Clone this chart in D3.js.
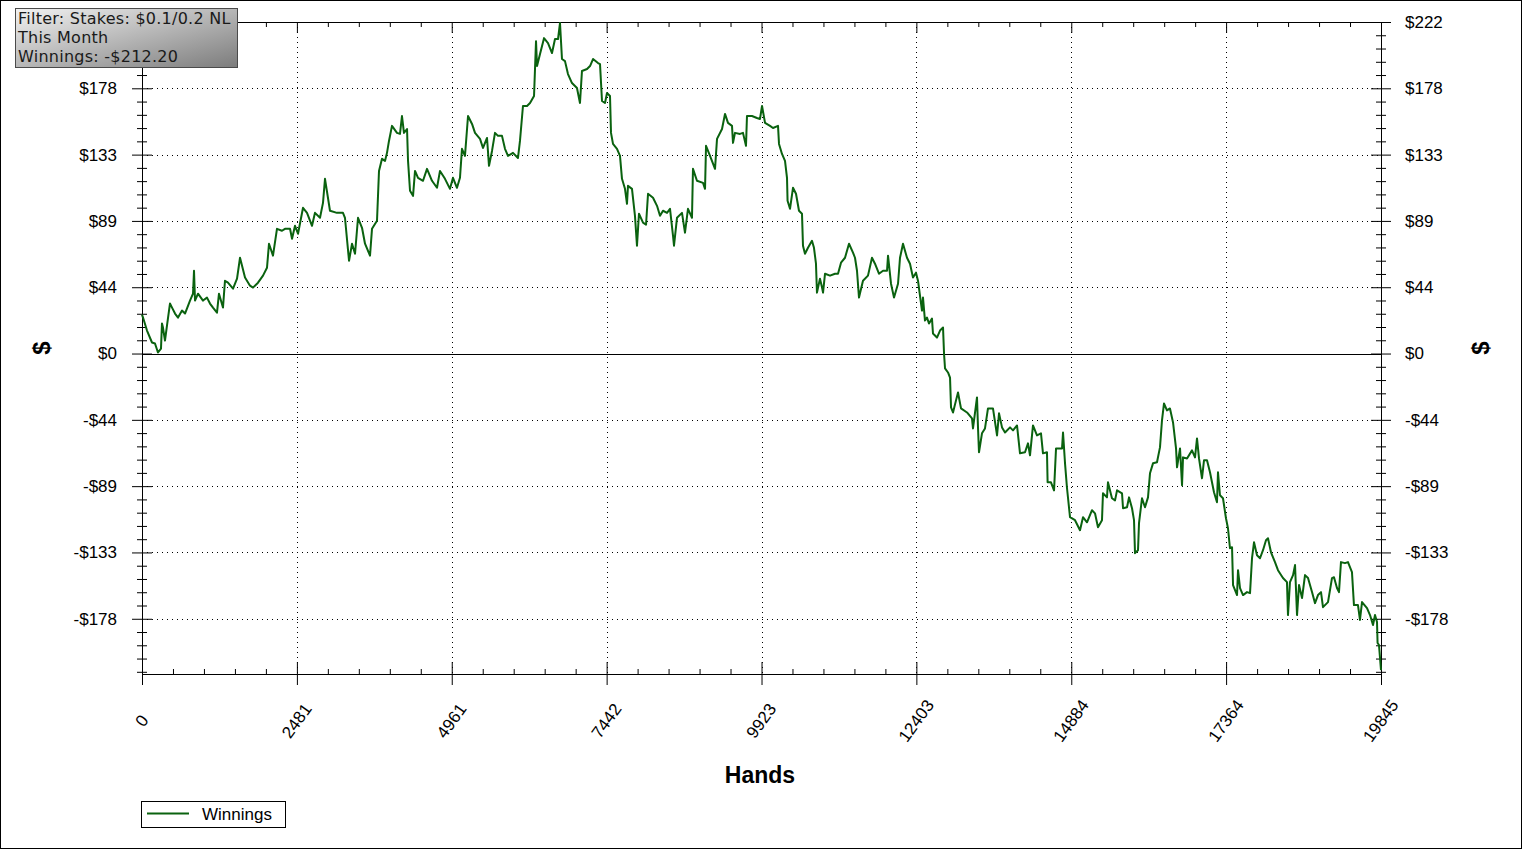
<!DOCTYPE html>
<html>
<head>
<meta charset="utf-8">
<script src="https://cdn.jsdelivr.net/npm/d3@7/dist/d3.min.js"></script>
<style>
html,body{margin:0;padding:0;background:#fff;}
svg{display:block;}
</style>
</head>
<body>
<svg id="chart" width="1522" height="849"></svg>
<script>
// ---------------- DATA ----------------
const hands = [0,16,80,160,208,256,304,320,336,368,400,448,481,529,577,641,689,769,817,833,849,897,977,1041,1089,1137,1201,1233,1297,1329,1377,1458,1522,1570,1650,1730,1778,1858,1938,2002,2034,2098,2162,2242,2290,2371,2403,2451,2499,2579,2643,2723,2771,2851,2899,2931,3011,3123,3219,3251,3316,3364,3412,3460,3524,3572,3652,3684,3764,3796,3844,3892,3924,3956,4004,4084,4132,4164,4196,4245,4261,4293,4341,4373,4421,4501,4565,4645,4725,4773,4853,4933,4981,5045,5093,5125,5173,5222,5286,5334,5414,5462,5526,5558,5606,5654,5702,5766,5814,5862,5942,6022,6054,6102,6167,6215,6279,6311,6327,6375,6439,6503,6567,6615,6663,6695,6727,6775,6823,6887,6967,7015,7047,7128,7176,7224,7304,7336,7368,7416,7448,7496,7512,7544,7608,7656,7688,7736,7768,7784,7848,7896,7928,7960,8025,8073,8105,8185,8249,8297,8345,8409,8457,8505,8521,8569,8649,8697,8745,8809,8825,8889,8986,9018,9034,9098,9178,9210,9290,9338,9386,9450,9466,9498,9578,9626,9674,9690,9770,9850,9898,9931,9979,10059,10107,10187,10203,10251,10299,10331,10340,10379,10427,10475,10523,10571,10587,10619,10667,10731,10763,10795,10811,10859,10892,10908,10940,11020,11100,11148,11196,11260,11324,11388,11420,11452,11484,11548,11628,11692,11740,11804,11869,11933,11949,11997,12045,12109,12141,12189,12253,12301,12349,12397,12429,12493,12509,12541,12573,12605,12653,12669,12733,12782,12830,12846,12862,12910,12942,12958,12990,13038,13070,13118,13214,13294,13310,13374,13390,13406,13454,13502,13550,13630,13695,13727,13775,13823,13903,13951,14015,14063,14143,14191,14223,14271,14335,14399,14431,14495,14505,14559,14608,14640,14736,14752,14784,14816,14864,14944,15024,15072,15136,15216,15264,15312,15376,15392,15456,15472,15536,15585,15617,15697,15713,15777,15809,15857,15889,15905,15953,15969,16017,16065,16113,16145,16193,16257,16305,16337,16369,16417,16465,16514,16562,16578,16626,16658,16674,16738,16818,16866,16898,16930,16978,17010,17058,17106,17138,17170,17218,17234,17266,17314,17362,17394,17426,17459,17475,17539,17555,17587,17635,17699,17747,17779,17811,17859,17907,17955,18003,18035,18083,18147,18195,18275,18339,18355,18387,18436,18468,18500,18532,18580,18628,18676,18740,18788,18836,18884,18916,18996,19060,19092,19140,19172,19204,19268,19316,19380,19412,19476,19508,19541,19621,19669,19717,19749,19781,19790,19813,19845];
const winnings = [26.1,24.1,15.4,7.4,6.7,0.7,3.3,20.1,17.4,8.7,18.7,33.5,30.8,26.8,24.1,28.8,26.8,35.5,40.1,55.5,35.5,40.1,35.5,37.5,33.5,30.8,27.4,40.1,30.8,48.8,47.5,43.5,50.2,64.2,50.9,45.5,44.2,47.5,52.2,57.5,73.6,65.6,83.6,82.3,83.6,83.6,76.9,85.6,80.3,97.7,94.3,85.6,94.3,91.0,101.0,117.1,95.7,94.3,94.3,91.0,62.2,73.6,66.9,91.0,84.3,73.6,65.6,83.6,89.0,122.4,130.5,129.1,134.5,142.5,152.6,147.9,147.2,159.2,147.9,150.5,129.1,109.1,105.7,122.4,117.8,115.8,123.8,115.8,111.1,122.4,117.1,110.4,117.8,111.1,117.8,137.2,132.5,159.2,153.9,147.9,143.9,137.8,144.5,125.8,135.8,147.9,145.9,145.9,137.2,132.5,134.5,131.1,142.5,165.9,165.9,167.9,172.6,209.4,192.7,200.7,211.4,208.1,201.4,210.8,210.8,221.5,197.4,196.0,187.3,181.3,178.0,167.9,189.4,190.7,192.7,197.4,194.7,194.0,169.3,167.9,174.6,172.6,147.9,140.5,137.2,132.5,117.1,110.4,100.4,112.4,110.4,92.3,72.3,93.7,87.7,86.3,107.1,104.4,99.0,92.3,95.7,94.3,97.0,79.0,72.3,91.0,94.3,81.0,97.0,91.0,123.8,115.8,114.4,110.4,139.2,132.5,123.8,143.9,150.5,160.6,154.6,152.6,141.2,147.9,147.2,147.9,139.2,159.2,159.2,157.9,157.2,165.9,154.6,152.6,151.2,152.6,140.5,133.8,129.1,117.8,102.4,97.0,111.1,107.1,95.7,93.7,72.3,66.9,70.9,75.6,70.9,60.2,40.8,50.2,44.2,40.8,53.5,52.2,53.5,53.5,60.9,64.2,73.6,67.6,64.2,55.5,37.5,48.8,52.2,64.2,60.2,53.5,55.5,55.5,65.6,46.8,37.5,46.8,64.2,73.6,64.2,60.2,50.9,54.2,48.8,28.8,37.5,22.1,24.1,20.1,23.4,13.4,10.7,15.4,17.4,0,-10.0,-12.7,-16.1,-36.1,-39.5,-31.4,-26.1,-36.8,-39.5,-43.5,-50.2,-29.4,-49.5,-66.2,-53.5,-50.2,-36.8,-36.8,-54.9,-40.1,-49.5,-52.9,-49.5,-51.5,-48.2,-66.9,-66.2,-60.2,-68.2,-48.2,-54.9,-53.5,-66.9,-66.2,-86.3,-86.3,-91.7,-63.6,-63.6,-52.9,-73.6,-90.3,-109.7,-111.7,-118.4,-109.7,-113.1,-105.0,-107.1,-116.4,-111.7,-93.7,-96.4,-86.3,-97.0,-98.4,-91.7,-93.7,-103.7,-103.0,-96.4,-103.7,-111.7,-133.8,-131.8,-113.7,-97.0,-103.0,-96.4,-80.3,-73.6,-72.9,-62.9,-44.8,-33.5,-38.1,-36.8,-46.2,-63.6,-76.3,-63.6,-88.3,-69.6,-70.3,-64.9,-69.6,-56.9,-70.3,-83.6,-71.6,-71.6,-79.6,-86.3,-93.0,-99.7,-79.6,-95.0,-97.0,-110.4,-117.1,-130.5,-129.8,-155.2,-161.9,-145.2,-157.2,-161.9,-159.9,-160.6,-137.2,-126.5,-135.2,-137.2,-131.8,-125.1,-123.8,-133.2,-139.8,-145.2,-150.5,-153.2,-175.3,-153.2,-148.5,-141.8,-175.3,-155.2,-163.9,-148.5,-150.5,-159.9,-167.3,-161.9,-159.9,-170.0,-166.6,-150.5,-149.9,-157.2,-159.9,-139.8,-140.5,-139.8,-146.5,-168.6,-168.6,-178.6,-166.6,-170.6,-175.3,-182.0,-175.3,-180.0,-194.0,-195.4,-212.2];

const xTickValues = [0,2481,4961,7442,9923,12403,14884,17364,19845];
const xTickLabels = ["0","2481","4961","7442","9923","12403","14884","17364","19845"];
const yTickValues = [-177.78,-133.33,-88.89,-44.44,0,44.44,88.89,133.33,177.78,222.22];
const yTickLabels = ["-$178","-$133","-$89","-$44","$0","$44","$89","$133","$178","$222"];
const filterLines = ["Filter: Stakes: $0.1/0.2 NL","This Month","Winnings: -$212.20"];
const seriesName = "Winnings";
const xTitle = "Hands";
const yTitle = "$";

// ---------------- LAYOUT ----------------
const W = 1522, H = 849;
const L = 142, R = 1381, T = 22, B = 674;
const xMax = 19845, yMin = -214.8, yMax = 222.22;
const lineColor = "#0a620f";
const FONT = "'Liberation Sans', Arial, sans-serif";

const svg = d3.select("#chart");
svg.append("rect").attr("x",0.5).attr("y",0.5).attr("width",W-1).attr("height",H-1)
  .attr("fill","#fff").attr("stroke","#000").attr("stroke-width",1);

const x = d3.scaleLinear().domain([0,xMax]).range([L,R]);
const y = d3.scaleLinear().domain([yMin,yMax]).range([B,T]);

const xMinor = d3.range(0, 41).map(i => i*xMax/40).filter((d,i)=> i%5 !== 0);
const yMinor = d3.range(-24, 26).filter(i => i%5 !== 0).map(i => i*222.22/25).filter(d => d>yMin && d<yMax);

// gridlines (dotted)
const grid = svg.append("g").attr("stroke","#000").attr("stroke-width",1).attr("stroke-dasharray","1,4");
grid.selectAll("line.gx").data(xTickValues.slice(1,-1)).join("line")
  .attr("x1",d=>Math.round(x(d))+0.5).attr("x2",d=>Math.round(x(d))+0.5)
  .attr("y1",T).attr("y2",B);
grid.selectAll("line.gy").data(yTickValues.filter(d=>d!==0 && d<220)).join("line")
  .attr("y1",d=>Math.round(y(d))+0.5).attr("y2",d=>Math.round(y(d))+0.5)
  .attr("x1",L).attr("x2",R);

// zero line
svg.append("line").attr("x1",L).attr("x2",R)
  .attr("y1",Math.round(y(0))+0.5).attr("y2",Math.round(y(0))+0.5)
  .attr("stroke","#000").attr("stroke-width",1);

// frame
svg.append("rect").attr("x",L+0.5).attr("y",T+0.5).attr("width",R-L).attr("height",B-T)
  .attr("fill","none").attr("stroke","#000").attr("stroke-width",1);

function styleAxis(g){
  g.select(".domain").remove();
  g.selectAll("line").attr("stroke","#000");
  g.selectAll("text").attr("font-family",FONT).attr("font-size",17).attr("fill","#000");
}

// Y axes - left (top label is hidden behind the filter box in the reference)
const leftVals = yTickValues.slice(0,-1);
svg.append("g").attr("transform",`translate(${L},0)`)
  .call(d3.axisLeft(y).tickValues(leftVals).tickFormat((d,i)=>yTickLabels[i]).tickSize(10).tickPadding(15)).call(styleAxis);
svg.append("g").attr("transform",`translate(${L},0)`)
  .call(d3.axisRight(y).tickValues(yTickValues).tickFormat("").tickSize(10)).call(styleAxis);
svg.append("g").attr("transform",`translate(${L},0)`)
  .call(d3.axisLeft(y).tickValues(yMinor).tickFormat("").tickSize(5)).call(styleAxis);
svg.append("g").attr("transform",`translate(${L},0)`)
  .call(d3.axisRight(y).tickValues(yMinor).tickFormat("").tickSize(5)).call(styleAxis);
// Y axes - right
svg.append("g").attr("transform",`translate(${R},0)`)
  .call(d3.axisRight(y).tickValues(yTickValues).tickFormat((d,i)=>yTickLabels[i]).tickSize(10).tickPadding(14)).call(styleAxis);
svg.append("g").attr("transform",`translate(${R},0)`)
  .call(d3.axisLeft(y).tickValues(yTickValues).tickFormat("").tickSize(10)).call(styleAxis);
svg.append("g").attr("transform",`translate(${R},0)`)
  .call(d3.axisRight(y).tickValues(yMinor).tickFormat("").tickSize(5)).call(styleAxis);
svg.append("g").attr("transform",`translate(${R},0)`)
  .call(d3.axisLeft(y).tickValues(yMinor).tickFormat("").tickSize(5)).call(styleAxis);

// X axes - bottom
svg.append("g").attr("transform",`translate(0,${B})`)
  .call(d3.axisBottom(x).tickValues(xTickValues).tickFormat("").tickSize(11)).call(styleAxis);
svg.append("g").attr("transform",`translate(0,${B})`)
  .call(d3.axisTop(x).tickValues(xTickValues).tickFormat("").tickSize(12)).call(styleAxis);
svg.append("g").attr("transform",`translate(0,${B})`)
  .call(d3.axisTop(x).tickValues(xMinor).tickFormat("").tickSize(5)).call(styleAxis);
// X axes - top
svg.append("g").attr("transform",`translate(0,${T})`)
  .call(d3.axisBottom(x).tickValues(xTickValues).tickFormat("").tickSize(11)).call(styleAxis);
svg.append("g").attr("transform",`translate(0,${T})`)
  .call(d3.axisBottom(x).tickValues(xMinor).tickFormat("").tickSize(5)).call(styleAxis);

// X tick labels rotated
svg.append("g").selectAll("text").data(xTickValues).join("text")
  .attr("transform",d=>`translate(${x(d)},721) rotate(-54)`)
  .attr("text-anchor","middle").attr("dominant-baseline","central")
  .attr("font-family",FONT).attr("font-size",17).attr("fill","#000")
  .text((d,i)=>xTickLabels[i]);

// Titles
svg.append("text").attr("x",760).attr("y",783).attr("text-anchor","middle")
  .attr("font-family",FONT).attr("font-size",23).attr("font-weight","bold").text(xTitle);
[41,1480].forEach(cx=>{
  svg.append("text").attr("transform",`translate(${cx},348) rotate(-90)`)
    .attr("text-anchor","middle").attr("dominant-baseline","central")
    .attr("font-family",FONT).attr("font-size",24).attr("font-weight","bold").text(yTitle);
});

// Series line
const pts = hands.map((h,i)=>({h, v: winnings[i]}));
svg.append("path").datum(pts)
  .attr("d", d3.line().x(d=>x(d.h)).y(d=>y(d.v)))
  .attr("fill","none").attr("stroke",lineColor).attr("stroke-width",2)
  .attr("stroke-linejoin","round");

// Legend
const lg = svg.append("g");
lg.append("rect").attr("x",141.5).attr("y",801.5).attr("width",144).attr("height",26)
  .attr("fill","#fff").attr("stroke","#000");
lg.append("line").attr("x1",147).attr("x2",189).attr("y1",813.5).attr("y2",813.5)
  .attr("stroke",lineColor).attr("stroke-width",2);
lg.append("text").attr("x",202).attr("y",820).attr("font-family",FONT).attr("font-size",17).text(seriesName);

// Filter info box
const defs = svg.append("defs");
const gr = defs.append("linearGradient").attr("id","boxGrad").attr("x1","0").attr("y1","0").attr("x2","1").attr("y2","1");
gr.append("stop").attr("offset","0%").attr("stop-color","#f2f2f2");
gr.append("stop").attr("offset","100%").attr("stop-color","#7c7c7c");
svg.append("rect").attr("x",15.5).attr("y",8.5).attr("width",222).attr("height",59)
  .attr("fill","url(#boxGrad)").attr("stroke","#4a4a4a");
svg.append("g").selectAll("text").data(filterLines).join("text")
  .attr("x",18).attr("y",(d,i)=>24+i*19)
  .attr("font-family","'DejaVu Sans', Verdana, sans-serif").attr("font-size",16)
  .attr("letter-spacing",0.25).attr("fill","#1a1a1a")
  .text(d=>d);
</script>
</body>
</html>
